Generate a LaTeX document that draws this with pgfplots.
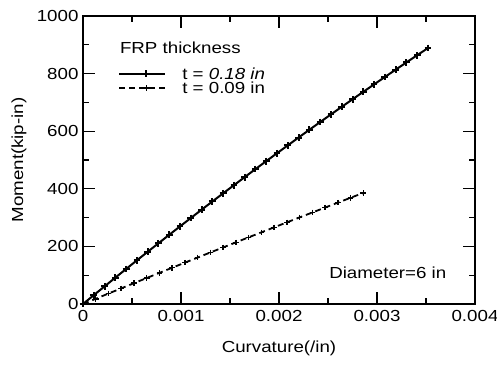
\documentclass[border=0pt]{standalone}
\usepackage{fontspec}
\setmainfont[FakeStretch=1.17]{Liberation Sans}
\usepackage{pgfplots}
\pgfplotsset{compat=1.18}
\begin{document}
\begin{tikzpicture}[font=\fontsize{16bp}{19bp}\selectfont]
\useasboundingbox (0,0) rectangle (497bp,365bp);
\begin{axis}[
  at={(83bp,61bp)}, anchor=south west,
  scale only axis, width=392bp, height=288bp,
  xmin=0, xmax=0.004, ymin=0, ymax=1000,
  xtick={0,0.001,0.002,0.003,0.004},
  xticklabels={0,0.001,0.002,0.003,0.004},
  ytick={0,200,400,600,800,1000},
  yticklabels={0,200,400,600,800,1000},
  minor x tick num=1, minor y tick num=1,
  scaled x ticks=false,
  tick align=inside,
  major tick length=12bp, minor tick length=6bp,
  every tick/.style={black, line width=1.1bp},
  axis line style={line width=1.3bp},
  xticklabel style={anchor=center, yshift=-12bp},
  yticklabel style={xshift=-1bp},
  xlabel={Curvature(/in)}, ylabel={Moment(kip-in)},
  xlabel style={at={(axis description cs:0.5,-0.153)}, anchor=center},
  ylabel style={at={(axis description cs:-0.163,0.5)}, anchor=center, rotate=0},
  legend style={at={(axis description cs:0.082,0.835)}, anchor=north west,
    draw=none, fill=none, row sep=-1bp,
    nodes={inner sep=2bp, anchor=west, text depth=0pt}},
  legend cell align=left,
  legend image code/.code={%
    \draw[mark repeat=2, mark phase=2, #1] plot coordinates {(0bp,0bp) (27bp,0bp) (46bp,0bp)};
    \path (60bp,0bp);},
]
\addplot[black, line width=2bp, mark=+, mark size=3.4bp,
  mark options={line width=2bp, solid}] coordinates {
(0,0) (0.00011,30.7) (0.00022,61.2) (0.00033,91.5) (0.00044,121.6)
(0.00055,151.6) (0.00066,181.3) (0.00077,210.9) (0.00088,240.3) (0.00099,269.5)
(0.00110,298.5) (0.00121,327.3) (0.00132,355.9) (0.00143,384.3) (0.00154,412.5)
(0.00165,440.6) (0.00176,468.5) (0.00187,496.1) (0.00198,523.6) (0.00209,550.9)
(0.00220,578.0) (0.00231,605.0) (0.00242,631.7) (0.00253,658.2) (0.00264,684.6)
(0.00275,710.7) (0.00286,736.7) (0.00297,762.5) (0.00308,788.1) (0.00319,813.5)
(0.00330,838.8) (0.00341,863.8) (0.00352,888.6)
};
\addlegendentry{t = \textit{0.18 in}}
\addplot[black, line width=1.8bp, dash pattern=on 6bp off 4bp, mark=+, mark size=2.8bp,
  mark options={line width=1.5bp, solid}] coordinates {
(0,0) (0.00013,18.2) (0.00026,36.3) (0.00039,54.3) (0.00052,72.3)
(0.00065,90.2) (0.00078,108.1) (0.00091,125.9) (0.00104,143.7) (0.00117,161.3)
(0.00130,179.0) (0.00143,196.5) (0.00156,214.0) (0.00169,231.5) (0.00182,248.8)
(0.00195,266.2) (0.00208,283.4) (0.00221,300.6) (0.00234,317.7) (0.00247,334.8)
(0.00260,351.8) (0.00273,368.8) (0.00286,385.7)
};
\addlegendentry{t = 0.09 in}
\node[anchor=west, inner sep=0pt] at (axis description cs:0.094,0.889) {FRP thickness};
\node[anchor=center, inner sep=0pt] at (axis cs:0.00311,108) {Diameter=6 in};
\end{axis}
\end{tikzpicture}
\end{document}
